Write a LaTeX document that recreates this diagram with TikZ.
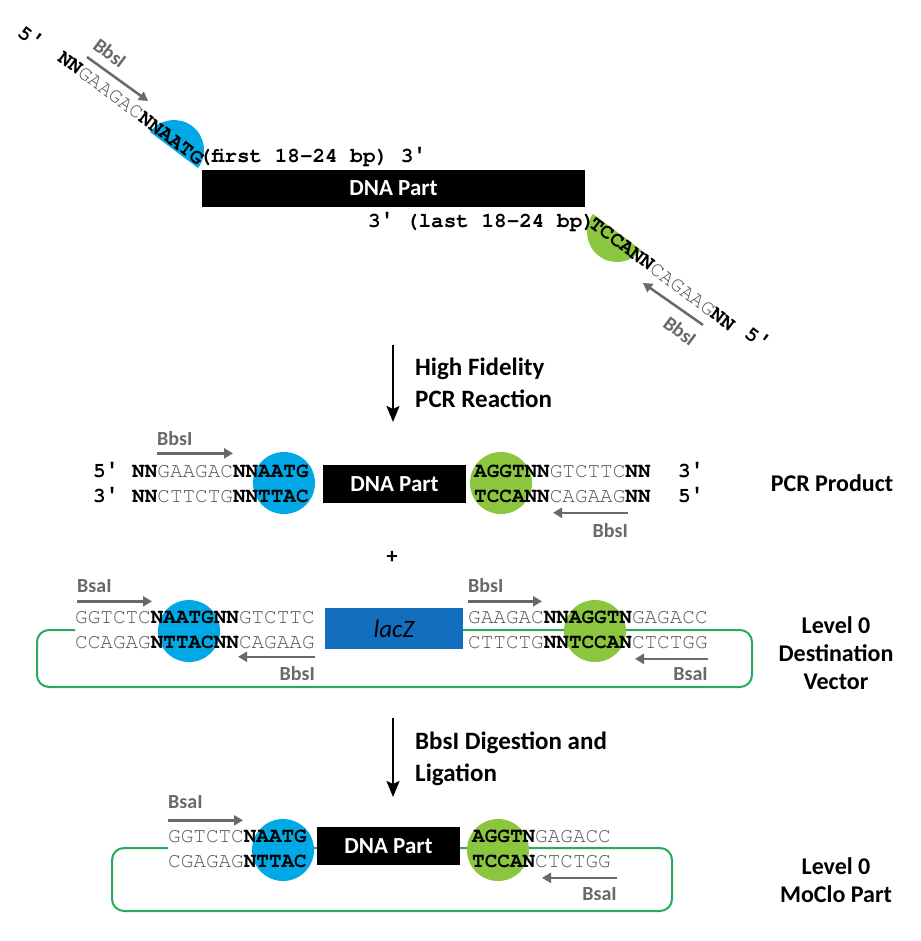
\documentclass[tikz,border=0pt]{standalone}
\usepackage{fontspec}
\setmainfont{Carlito}
\setsansfont{Carlito}
\setmonofont{TeX Gyre Cursor}
\newfontfamily\primefont{Liberation Mono}
\usetikzlibrary{arrows.meta}

\definecolor{ohblue}{RGB}{0,169,230}
\definecolor{ohgreen}{RGB}{140,198,63}
\definecolor{lacblue}{RGB}{20,110,190}
\definecolor{vecgreen}{RGB}{40,170,90}
\definecolor{seqgray}{RGB}{85,85,85}
\definecolor{sitegray}{RGB}{105,105,105}

\newcommand\lite[1]{{\mdseries\color{seqgray}#1}}
\newcommand\pr{{\primefont ′}}

\tikzset{
  seq/.style={font=\fontsize{21}{25}\selectfont\ttfamily\bfseries, inner sep=0pt},
  endlbl/.style={font=\fontsize{21}{25}\selectfont\ttfamily\bfseries, inner sep=0pt},
  partbox/.style={fill=black, text=white, inner sep=0pt, font=\fontsize{23}{27}\selectfont\sffamily\bfseries},
  lacbox/.style={fill=lacblue, inner sep=0pt, font=\fontsize{25}{29}\selectfont\sffamily\itshape},
  bluedot/.style={circle, fill=ohblue, minimum size=62pt, inner sep=0pt},
  greendot/.style={circle, fill=ohgreen, minimum size=62pt, inner sep=0pt},
  site/.style={draw=sitegray, line width=2.5pt, -{Triangle[length=9pt,width=10pt]}},
  sitelbl/.style={text=sitegray, inner sep=0pt, font=\fontsize{20}{24}\selectfont\sffamily\bfseries},
  backbone/.style={draw=vecgreen, line width=2pt, rounded corners=12pt},
  proc/.style={line width=2pt, -{Stealth[length=16pt,width=13pt,inset=3pt]}},
  steplbl/.style={align=left, inner sep=0pt, font=\fontsize{25}{32}\selectfont\sffamily\bfseries},
  stagelbl/.style={align=center, inner sep=0pt, font=\fontsize{24}{28}\selectfont\sffamily\bfseries}
}

\begin{document}
\begin{tikzpicture}[x=1pt,y=-1pt]
\path[use as bounding box, fill=white] (0,0) rectangle (920,941);

% primers on the DNA part
\fill[ohblue] (174,150) ++(216.87:30) arc[start angle=216.87, end angle=396.87, radius=30] -- cycle;
\fill[ohgreen] (617,232) ++(36.87:30) arc[start angle=36.87, end angle=216.87, radius=30] -- cycle;
\node[endlbl, rotate=-36.87] (fwd5) at (31,37) {5\pr};
\node[seq, rotate=-36.87, anchor=base east] (fwd) at (198,166) {NN\lite{GAAGAC}NNAATG};
\node[endlbl, anchor=base west] (fwd3) at (199,163) {(first 18-24 bp) 3\pr};
\node[partbox, minimum width=383pt, minimum height=37pt] (part) at (393.5,188.5) {DNA Part};
\node[endlbl, anchor=base west] (rev3) at (368,227) {3\pr{} (last 18-24 bp)};
\node[seq, rotate=-36.87, anchor=base west] (rev) at (588,226) {TCCANN\lite{CAGAAG}NN};
\node[endlbl, rotate=-36.87] (rev5) at (758,338) {5\pr};
\node[sitelbl, rotate=-36.87] (s1) at (110,53) {BbsI};
\node[sitelbl, rotate=-36.87] (s2) at (680,331) {BbsI};
\draw[site] (s1) ++(-23,4) -- ++(61,44);
\draw[site] (s2) ++(23,-6) -- ++(-60,-42);

% PCR step
\coordinate (a1) at (393,345);
\coordinate (a1e) at (393,422);
\draw[proc] (a1) -- (a1e);
\node[steplbl, anchor=base west] (t1) at (415,407) {High Fidelity\\PCR Reaction};

% PCR product
\node[bluedot] (pb) at (284,483) {};
\node[greendot] (pg) at (501,483) {};
\node[endlbl, anchor=base west] (p5a) at (93,477) {5\pr};
\node[seq, anchor=base west] (pL1) at (132,477) {NN\lite{GAAGAC}NNAATG};
\node[seq, anchor=base west] (pR1) at (474,477) {AGGTNN\lite{GTCTTC}NN};
\node[endlbl, anchor=base west] (p3a) at (678,477) {3\pr};
\node[endlbl, anchor=base west] (p3b) at (93,502) {3\pr};
\node[seq, anchor=base west] (pL2) at (132,502) {NN\lite{CTTCTG}NNTTAC};
\node[seq, anchor=base west] (pR2) at (474,502) {TCCANN\lite{CAGAAG}NN};
\node[endlbl, anchor=base west] (p5b) at (678,502) {5\pr};
\node[partbox, minimum width=143pt, minimum height=38pt] (ppart) at (394.5,484) {DNA Part};
\node[sitelbl, anchor=base west] (b1) at (157,445) {BbsI};
\node[sitelbl, anchor=base east] (b2) at (628,537) {BbsI};
\draw[site] (b1.south west) ++(0,8) -- ++(76,0);
\draw[site] (b2.north east) ++(0,-10) -- ++(-75,0);
\node[stagelbl] (pcr) at (832,483) {PCR Product};

\node[font=\fontsize{22}{26}\selectfont\sffamily\bfseries] (plus) at (392,557) {+};

% destination vector
\draw[backbone] (75,630) -- (37,630) -- (37,687) -- (752,687) -- (752,630) -- (325,630);
\node[bluedot] (db) at (189,631) {};
\node[greendot] (dg) at (595,631) {};
\node[seq, anchor=base west] (dL1) at (75,623) {\lite{GGTCTC}NAATGNN\lite{GTCTTC}};
\node[seq, anchor=base west] (dL2) at (75,648) {\lite{CCAGAG}NTTACNN\lite{CAGAAG}};
\node[seq, anchor=base west] (dR1) at (468,623) {\lite{GAAGAC}NNAGGTN\lite{GAGACC}};
\node[seq, anchor=base west] (dR2) at (468,648) {\lite{CTTCTG}NNTCCAN\lite{CTCTGG}};
\node[lacbox, minimum width=138pt, minimum height=41pt] (lacz) at (394,628.5) {lacZ};
\node[sitelbl, anchor=base west] (d1) at (77,592) {BsaI};
\node[sitelbl, anchor=base west] (d2) at (468,592) {BbsI};
\node[sitelbl, anchor=base east] (d3) at (315,680) {BbsI};
\node[sitelbl, anchor=base east] (d4) at (708,680) {BsaI};
\draw[site] (d1.south west) ++(0,9) -- ++(75,0);
\draw[site] (d2.south west) ++(0,9) -- ++(74,0);
\draw[site] (d3.north east) ++(0,-9) -- ++(-77,0);
\draw[site] (d4.north east) ++(0,-8) -- ++(-73,0);
\node[stagelbl] (dest) at (836,653) {Level 0\\Destination\\Vector};

% digestion and ligation
\coordinate (a2) at (393,718);
\coordinate (a2e) at (393,797);
\draw[proc] (a2) -- (a2e);
\node[steplbl, anchor=base west] (t2) at (415,781) {BbsI Digestion and\\Ligation};

% level 0 part
\draw[backbone] (168,848) -- (112,848) -- (112,911) -- (672,911) -- (672,848) -- (253,848);
\node[bluedot] (fb) at (283,850) {};
\node[greendot] (fg) at (498,850) {};
\node[seq, anchor=base west] (fL1) at (168,842) {\lite{GGTCTC}NAATG};
\node[seq, anchor=base west] (fL2) at (168,867) {\lite{CGAGAG}NTTAC};
\node[seq, anchor=base west] (fR1) at (472,842) {AGGTN\lite{GAGACC}};
\node[seq, anchor=base west] (fR2) at (472,867) {TCCAN\lite{CTCTGG}};
\node[partbox, minimum width=143pt, minimum height=38pt] (fpart) at (388.5,846) {DNA Part};
\node[sitelbl, anchor=base west] (f1) at (168,808) {BsaI};
\node[sitelbl, anchor=base east] (f2) at (617,900) {BsaI};
\draw[site] (f1.south west) ++(0,12) -- ++(75,0);
\draw[site] (f2.north east) ++(0,-9) -- ++(-75,0);
\node[stagelbl] (moclo) at (836,880) {Level 0\\MoClo Part};
\end{tikzpicture}
\end{document}
